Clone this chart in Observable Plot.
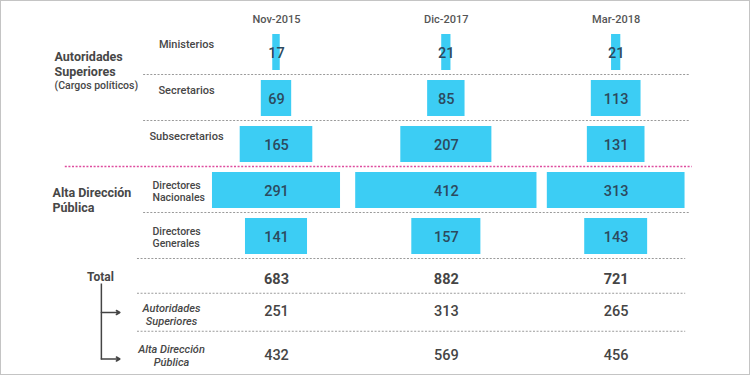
<!DOCTYPE html>
<html>
<head>
<meta charset="utf-8">
<script src="https://cdn.jsdelivr.net/npm/d3@7"></script>
<script src="https://cdn.jsdelivr.net/npm/@observablehq/plot@0.6"></script>
<style>
  html, body { margin: 0; padding: 0; background: #fff; }
  #chart { position: relative; width: 750px; height: 375px; overflow: hidden; background: #fff; font-family: Roboto, sans-serif; }
  #chart svg { display: block; overflow: visible; }
  #frame { position: absolute; left: 0; top: 0; right: 0; bottom: 0; border: 1.5px solid #c4c4c4; pointer-events: none; }
</style>
</head>
<body>
<div id="chart"><div id="frame"></div></div>
<script>
// ---------- data ----------
const periods = ["Nov-2015", "Dic-2017", "Mar-2018"];
const positions = ["Ministerios", "Secretarios", "Subsecretarios", "Directores Nacionales", "Directores Generales"];
const positionLabels = ["Ministerios", "Secretarios", "Subsecretarios", "Directores\nNacionales", "Directores\nGenerales"];
const positionGroups = ["Autoridades Superiores", "Autoridades Superiores", "Autoridades Superiores", "Alta Dirección Pública", "Alta Dirección Pública"];
const groupLabels = ["Autoridades\nSuperiores", "Alta Dirección\nPública"];
const groupNote = "(Cargos políticos)";
const nov2015 = [17, 69, 165, 291, 141];
const dic2017 = [21, 85, 207, 412, 157];
const mar2018 = [21, 113, 131, 313, 143];
const summaryRows = ["Total", "Autoridades Superiores", "Alta Dirección Pública"];
const summaryLabels = ["Total", "Autoridades\nSuperiores", "Alta Dirección\nPública"];
const totalAll = [683, 882, 721];
const totalAutoridades = [251, 313, 265];
const totalAltaDireccion = [432, 569, 456];

// ---------- layout (not data) ----------
const W = 750;
const pxPerUnit = 0.44;          // bar width per person
const firstCenterPx = 276;
const colStep = 386;             // distance between period columns, in persons
const xDomain = [-firstCenterPx / pxPerUnit, (W - firstCenterPx) / pxPerUnit];
const center = j => j * colStep;
const spanUpper = [-302, 941];
const spanPink = [-480, 945];
const spanLower = [-316, 930];
const bracketX = -398, arrowTipX = -356;
// small vertical nudges for the summary rows (numbers, labels, arrows)
const numShift = [1, -5.5, 1];
const labelShift = [-1, -2, 1];
const arrowShift = [0, -4, 4.5];

const blue = "#3ccdf4";
const numColor = "#2c4a5e";
const labelColor = "#474747";
const ruleGrey = "#9a9a9a";
const pink = "#de4c9e";

// ---------- tables ----------
const series = [nov2015, dic2017, mar2018];
const cells = positions.flatMap((pos, i) => periods.map((p, j) => ({position: pos, period: p, col: j, value: series[j][i]})));
const rowLabels = positions.map((pos, i) => ({position: pos, label: positionLabels[i], group: positionGroups[i]}));
const summarySeries = [totalAll, totalAutoridades, totalAltaDireccion];
const summaryCells = summaryRows.flatMap((r, i) => periods.map((p, j) => ({row: r, col: j, value: summarySeries[i][j]})));

const step = 46;
const upperRules = [
  {position: positions[0], span: spanUpper},
  {position: positions[1], span: spanUpper},
  {position: positions[3], span: spanUpper},
  {position: positions[4], span: spanLower}
];

const topPlot = Plot.plot({
  width: W, height: 260,
  marginTop: 29, marginBottom: 1, marginLeft: 0, marginRight: 0,
  x: {domain: xDomain, axis: null},
  y: {type: "band", domain: positions, axis: null, padding: 0},
  style: {fontFamily: "Roboto, sans-serif", overflow: "visible", background: "transparent"},
  marks: [
    Plot.ruleY(upperRules, {y: "position", x1: d => d.span[0], x2: d => d.span[1], dy: step / 2 - 1, stroke: ruleGrey, strokeWidth: 1.2, strokeDasharray: "2,1.6"}),
    Plot.ruleY([positions[2]], {y: d => d, x1: spanPink[0], x2: spanPink[1], dy: step / 2 - 1, stroke: pink, strokeWidth: 1.4, strokeDasharray: "2,1.6"}),
    Plot.barX(cells, {
      x1: d => center(d.col) - d.value / 2,
      x2: d => center(d.col) + d.value / 2,
      y: "position", fill: blue, insetTop: 5, insetBottom: 5
    }),
    Plot.text(cells, {x: d => center(d.col), y: "position", text: d => String(d.value), dy: 1, fontSize: 14.5, fontWeight: 500, fill: numColor}),
    Plot.text(periods, {x: (d, i) => center(i), text: d => d, frameAnchor: "top", dy: -14, fontSize: 11, fontWeight: 500, fill: "#555"}),
    Plot.text(rowLabels.filter(d => d.group === positionGroups[0]), {y: "position", text: "label", frameAnchor: "left", dx: 186, dy: -8, textAnchor: "middle", fontSize: 11, fontWeight: 500, fill: labelColor}),
    Plot.text(rowLabels.filter(d => d.group !== positionGroups[0]), {y: "position", text: "label", frameAnchor: "left", dx: 152, dy: 1, textAnchor: "start", fontSize: 10.5, fontWeight: 500, fill: labelColor, lineHeight: 1.1}),
    Plot.text([groupLabels[0]], {y: () => positions[0], text: d => d, frameAnchor: "left", dx: 54, dy: 11.5, textAnchor: "start", fontSize: 12.5, fontWeight: 700, fill: labelColor, lineHeight: 1.2}),
    Plot.text([groupNote], {y: () => positions[0], text: d => d, frameAnchor: "left", dx: 54, dy: 33, textAnchor: "start", fontSize: 10.5, fontWeight: 500, fill: labelColor}),
    Plot.text([groupLabels[1]], {y: () => positions[3], text: d => d, frameAnchor: "left", dx: 52, dy: 9.5, textAnchor: "start", fontSize: 12.5, fontWeight: 700, fill: labelColor, lineHeight: 1.2})
  ]
});

const summaryMarks = summaryRows.flatMap((r, i) => {
  const rowCells = summaryCells.filter(d => d.row === r);
  const marks = [
    Plot.text(rowCells, {x: d => center(d.col), y: "row", text: d => String(d.value), dy: numShift[i], fontSize: 14.5, fontWeight: i === 0 ? 700 : 500, fill: "#454545"})
  ];
  if (i === 0) {
    marks.push(Plot.text([summaryLabels[0]], {y: () => r, text: d => d, frameAnchor: "left", dx: 100, dy: labelShift[0], textAnchor: "middle", fontSize: 12, fontWeight: 700, fill: labelColor}));
  } else {
    marks.push(Plot.text([summaryLabels[i]], {y: () => r, text: d => d, frameAnchor: "left", dx: 171, dy: labelShift[i], textAnchor: "middle", fontSize: 11, fontWeight: 500, fontStyle: "italic", fill: labelColor, lineHeight: 1.2}));
    marks.push(Plot.arrow([r], {x1: bracketX, x2: arrowTipX, y1: d => d, y2: d => d, dy: arrowShift[i], stroke: "#444", strokeWidth: 1.5, headLength: 4}));
  }
  return marks;
});

const bottomPlot = Plot.plot({
  width: W, height: 115,
  marginTop: 0, marginBottom: 0, marginLeft: 0, marginRight: 0,
  x: {domain: xDomain, axis: null},
  y: {type: "band", domain: summaryRows, range: [-2, 113.5], axis: null, padding: 0},
  style: {fontFamily: "Roboto, sans-serif", overflow: "visible", background: "transparent"},
  marks: [
    Plot.ruleY(summaryRows.slice(0, 2), {y: d => d, x1: spanLower[0], x2: spanLower[1], dy: 38.5 / 2 - 4.5, stroke: ruleGrey, strokeWidth: 1.2, strokeDasharray: "2,1.6"}),
    Plot.link([summaryRows], {x1: bracketX, x2: bracketX, y1: d => d[0], y2: d => d[2], dy: 5, stroke: "#444", strokeWidth: 1.5}),
    ...summaryMarks
  ]
});

const chart = document.getElementById("chart");
chart.insertBefore(bottomPlot, chart.firstChild);
chart.insertBefore(topPlot, chart.firstChild);
</script>
</body>
</html>
